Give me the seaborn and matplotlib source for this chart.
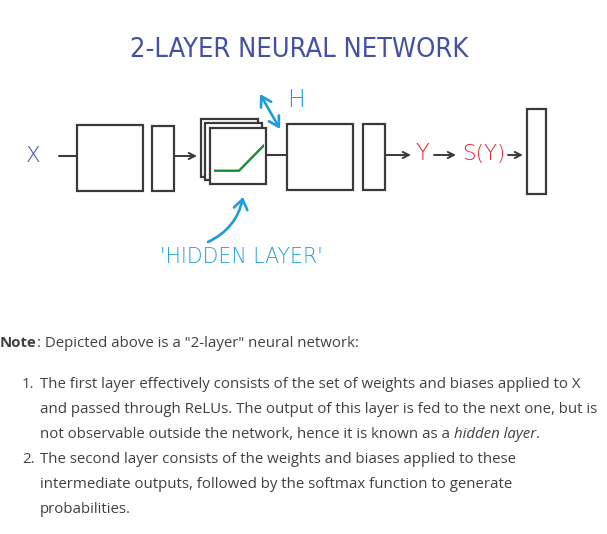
import matplotlib
matplotlib.use("Agg")
import matplotlib.pyplot as plt
from matplotlib.patches import Rectangle, FancyArrowPatch
import seaborn as sns

# ---- data / texts ----
title = "2-LAYER NEURAL NETWORK"
input_label = "X"
output_label = "Y"
softmax_label = "S(Y)"
hidden_size_label = "H"
hidden_label = "'HIDDEN LAYER'"
relu_x = [-1.0, 0.0, 1.0]
relu_y = [0.0, 0.0, 1.0]
note_lines = [
    [("Note", "bold"), (': Depicted above is a "2-layer" neural network:', "normal")],
]
list_items = [
    ("1.", [
        [("The first layer effectively consists of the set of weights and biases applied to X", "normal")],
        [("and passed through ReLUs. The output of this layer is fed to the next one, but is", "normal")],
        [("not observable outside the network, hence it is known as a ", "normal"), ("hidden layer", "italic"), (".", "normal")],
    ]),
    ("2.", [
        [("The second layer consists of the weights and biases applied to these", "normal")],
        [("intermediate outputs, followed by the softmax function to generate", "normal")],
        [("probabilities.", "normal")],
    ]),
]

sns.set_theme(style="white")
plt.rcParams['font.family'] = ['Open Sans', 'DejaVu Sans']

W, H = 607, 534
fig = plt.figure(figsize=(W / 100, H / 100), dpi=100)
ax = fig.add_axes([0, 0, 1, 1])
ax.set_xlim(0, W)
ax.set_ylim(H, 0)
ax.axis("off")

DARK = "#3a3a3a"
INDIGO = "#4450a2"
CYAN = "#1f9bd8"
RED = "#e8212b"
GREEN = "#17893a"
hand = dict(family=['DejaVu Sans'], fontweight='light')

# title
ax.text(299, 50, title, color=INDIGO, fontsize=19.5, ha="center", va="center",
        family=['DejaVu Sans'], fontweight='normal', fontstretch='condensed')

def box(x0, y0, x1, y1, z=2):
    ax.add_patch(Rectangle((x0, y0), x1 - x0, y1 - y0, fill=True, fc="white",
                           ec=DARK, lw=1.6, zorder=z))

def seg(x0, y0, x1, y1):
    ax.plot([x0, x1], [y0, y1], color=DARK, lw=1.5, zorder=1)

def arrow(p0, p1, color=DARK, style="->", rad=0.0, lw=1.4, ms=11):
    ax.add_patch(FancyArrowPatch(p0, p1, arrowstyle=style, color=color, lw=lw,
                                 shrinkA=0, shrinkB=0, mutation_scale=ms,
                                 connectionstyle=f"arc3,rad={rad}", zorder=6))

ax.text(33, 156, input_label, color=INDIGO, fontsize=15.5, ha="center", va="center", **hand)
seg(59, 156, 77, 156)
box(77, 125, 143, 191)
box(152, 126, 174, 191)
arrow((174, 156), (197, 156))
# stacked hidden boxes
box(201, 119, 258, 177, z=2)
box(205, 123, 262, 180, z=3)
box(210, 128, 266, 184, z=4)
# ReLU drawn via seaborn on an inset axes inside the front box
iax = ax.inset_axes([214, 144, 50, 28], transform=ax.transData, zorder=5)
sns.lineplot(x=relu_x, y=relu_y, ax=iax, color=GREEN, lw=1.7)
iax.set_xlim(-1, 1)
iax.set_ylim(-0.05, 1.05)
iax.axis("off")
iax.patch.set_alpha(0)

seg(266, 155, 287, 155)
box(287, 124, 353, 190)
box(363, 124, 385, 190)
arrow((385, 155), (411, 155))
ax.text(422, 154, output_label, color=RED, fontsize=16.5, ha="center", va="center", **hand)
arrow((434, 155), (456, 155))
ax.text(484, 154, softmax_label, color=RED, fontsize=15.5, ha="center", va="center", **hand)
arrow((508, 155), (523, 155))
box(527, 109, 546, 194)

# H label and double arrow
ax.text(296, 100, hidden_size_label, color=CYAN, fontsize=17, ha="center", va="center", **hand)
arrow((260, 94), (280, 129), color=CYAN, style="<->,head_width=0.3,head_length=0.5",
      rad=0.0, lw=1.9, ms=14)
# hidden layer arrow
arrow((208, 242), (243, 197), color=CYAN, style="->,head_width=0.35,head_length=0.5",
      rad=0.25, lw=1.9, ms=14)
ax.text(241, 257, hidden_label, color=CYAN, fontsize=14.8, ha="center", va="center", **hand)

# ---- note text ----
fs = 10.85
TXT = "#404040"
renderer = fig.canvas.get_renderer()

def draw_line(x, y, parts):
    for s, style in parts:
        kw = dict(fontsize=fs, color=TXT, va="baseline", ha="left")
        if style == "bold":
            kw["fontweight"] = "bold"
        if style == "italic":
            kw["fontstyle"] = "italic"
        t = ax.text(x, y, s, **kw)
        bb = t.get_window_extent(renderer=renderer)
        x += bb.width  # 1 px == 1 data unit

draw_line(0, 347, note_lines[0])
y = 388
for num, lines in list_items:
    ax.text(22, y, num, fontsize=fs, color=TXT, va="baseline", ha="left")
    for ln in lines:
        draw_line(40, y, ln)
        y += 25

fig.savefig("out.png", dpi=100)
